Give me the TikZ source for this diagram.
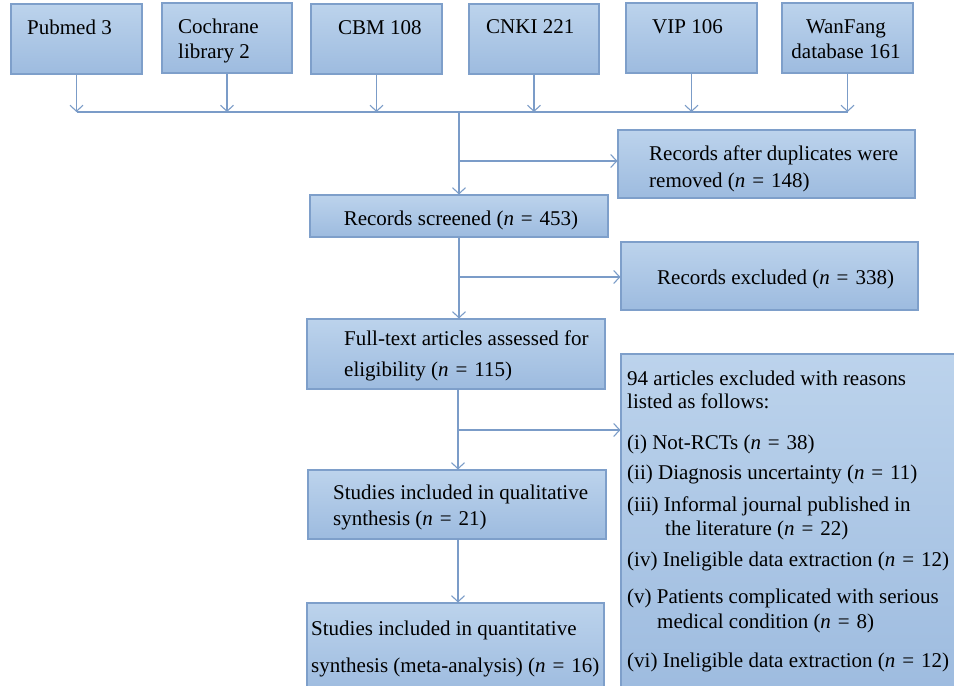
\documentclass[tikz,border=0pt]{standalone}
\usepackage{fontspec}
\setmainfont{Liberation Serif}
\usetikzlibrary{arrows.meta}
\definecolor{boxtop}{HTML}{BCD3EC}
\definecolor{boxbot}{HTML}{9DBBDF}
\definecolor{boxline}{HTML}{7E9FCA}
\definecolor{conn}{HTML}{7B9CC8}
\tikzset{
  box/.style={rectangle, draw=boxline, line width=1.1pt, top color=boxtop, bottom color=boxbot, inner sep=0pt},
  txt/.style={inner sep=0pt, font=\fontsize{21}{25}\selectfont, text=black},
  conline/.style={draw=conn, line width=1.2pt},
  arr/.style={conline, -{Straight Barb[length=6pt,width=13pt,line width=1.1pt]}},
}
\newcommand{\nn}{\textit{n}\hspace{0.33em}=\hspace{0.33em}}
\begin{document}
\begin{tikzpicture}[x=1pt,y=-1pt]
\clip (0,0) rectangle (954,686);
\fill[white] (0,0) rectangle (954,686);
% top boxes
\node[box, minimum width=131pt, minimum height=70pt] (pub) at (76.5,39) {};
\node[box, minimum width=130pt, minimum height=70pt] (coch) at (227,38) {};
\node[box, minimum width=131pt, minimum height=70pt] (cbm) at (376.5,39) {};
\node[box, minimum width=130pt, minimum height=70pt] (cnki) at (534,39) {};
\node[box, minimum width=131pt, minimum height=70pt] (vip) at (691.5,38) {};
\node[box, minimum width=131pt, minimum height=70pt] (wan) at (847.5,38) {};
\node[txt, anchor=base west] (tpub) at (27,34) {Pubmed 3};
\node[txt, anchor=base west] (tcoch1) at (178,33) {Cochrane};
\node[txt, anchor=base west] (tcoch2) at (178,58) {library 2};
\node[txt, anchor=base west] (tcbm) at (338,34) {CBM 108};
\node[txt, anchor=base west] (tcnki) at (486,33) {CNKI 221};
\node[txt, anchor=base west] (tvip) at (652,33) {VIP 106};
\node[txt, anchor=base] (twan1) at (846,33) {WanFang};
\node[txt, anchor=base] (twan2) at (846,58) {database 161};
% bus
\coordinate (bus) at (0,112);
\coordinate (busmid) at (459,112);
\foreach \b in {pub,coch,cbm,cnki,vip,wan}{
  \draw[arr] (\b.south) -- (\b.south |- bus);
}
\draw[conline] (pub.south |- bus) -- (wan.south |- bus);
% middle column boxes
\node[box, minimum width=297pt, minimum height=68pt] (dup) at (766.5,164) {};
\node[txt, anchor=base west] (tdup1) at (649,160) {Records after duplicates were};
\node[txt, anchor=base west] (tdup2) at (649,187) {removed (\nn148)};
\node[box, minimum width=298pt, minimum height=42pt] (scr) at (459,216) {};
\node[txt, anchor=base] (tscr) at (461,225) {Records screened (\nn453)};
\node[box, minimum width=297pt, minimum height=68pt] (exc) at (769.5,276) {};
\node[txt, anchor=base west] (texc) at (657,284) {Records excluded (\nn338)};
\node[box, minimum width=298pt, minimum height=70pt] (full) at (456,354) {};
\node[txt, anchor=base west] (tfull1) at (344,345) {Full-text articles assessed for};
\node[txt, anchor=base west] (tfull2) at (344,376) {eligibility (\nn115)};
\node[box, minimum width=298pt, minimum height=69pt] (qual) at (457,504.5) {};
\node[txt, anchor=base west] (tqual1) at (333,499) {Studies included in qualitative};
\node[txt, anchor=base west] (tqual2) at (333,525) {synthesis (\nn21)};
\node[box, minimum width=297pt, minimum height=90pt] (quant) at (455.5,648) {};
\node[txt, anchor=base west] (tquant1) at (311,635) {Studies included in quantitative};
\node[txt, anchor=base west] (tquant2) at (311,672) {synthesis (meta-analysis) (\nn16)};
% reasons box
\node[box, minimum width=340pt, minimum height=345pt] (rea) at (791,526.5) {};
\node[txt, anchor=base west] (r1) at (627,385) {94 articles excluded with reasons};
\node[txt, anchor=base west] (r2) at (627,408) {listed as follows:};
\node[txt, anchor=base west] (r3) at (627,449) {(i) Not-RCTs (\nn38)};
\node[txt, anchor=base west] (r4) at (627,479) {(ii) Diagnosis uncertainty (\nn11)};
\node[txt, anchor=base west] (r5) at (627,511) {(iii) Informal journal published in};
\node[txt, anchor=base west] (r6) at (665,535) {the literature (\nn22)};
\node[txt, anchor=base west] (r7) at (627,566) {(iv) Ineligible data extraction (\nn12)};
\node[txt, anchor=base west] (r8) at (627,603) {(v) Patients complicated with serious};
\node[txt, anchor=base west] (r9) at (657,628) {medical condition (\nn8)};
\node[txt, anchor=base west] (r10) at (627,667) {(vi) Ineligible data extraction (\nn12)};
% connectors
\draw[arr] (busmid) -- (busmid |- scr.north);
\coordinate (br1) at (459,161);
\draw[arr] (br1) -- (br1 -| dup.west);
\draw[arr] (scr.south) -- (scr.south |- full.north);
\coordinate (br2) at (459,277);
\draw[arr] (br2) -- (br2 -| exc.west);
\coordinate (c3) at (458,389);
\draw[arr] (c3) -- (c3 |- qual.north);
\coordinate (br3) at (458,430);
\draw[arr] (br3) -- (br3 -| rea.west);
\coordinate (c4) at (458,539);
\draw[arr] (c4) -- (c4 |- quant.north);
\end{tikzpicture}
\end{document}
